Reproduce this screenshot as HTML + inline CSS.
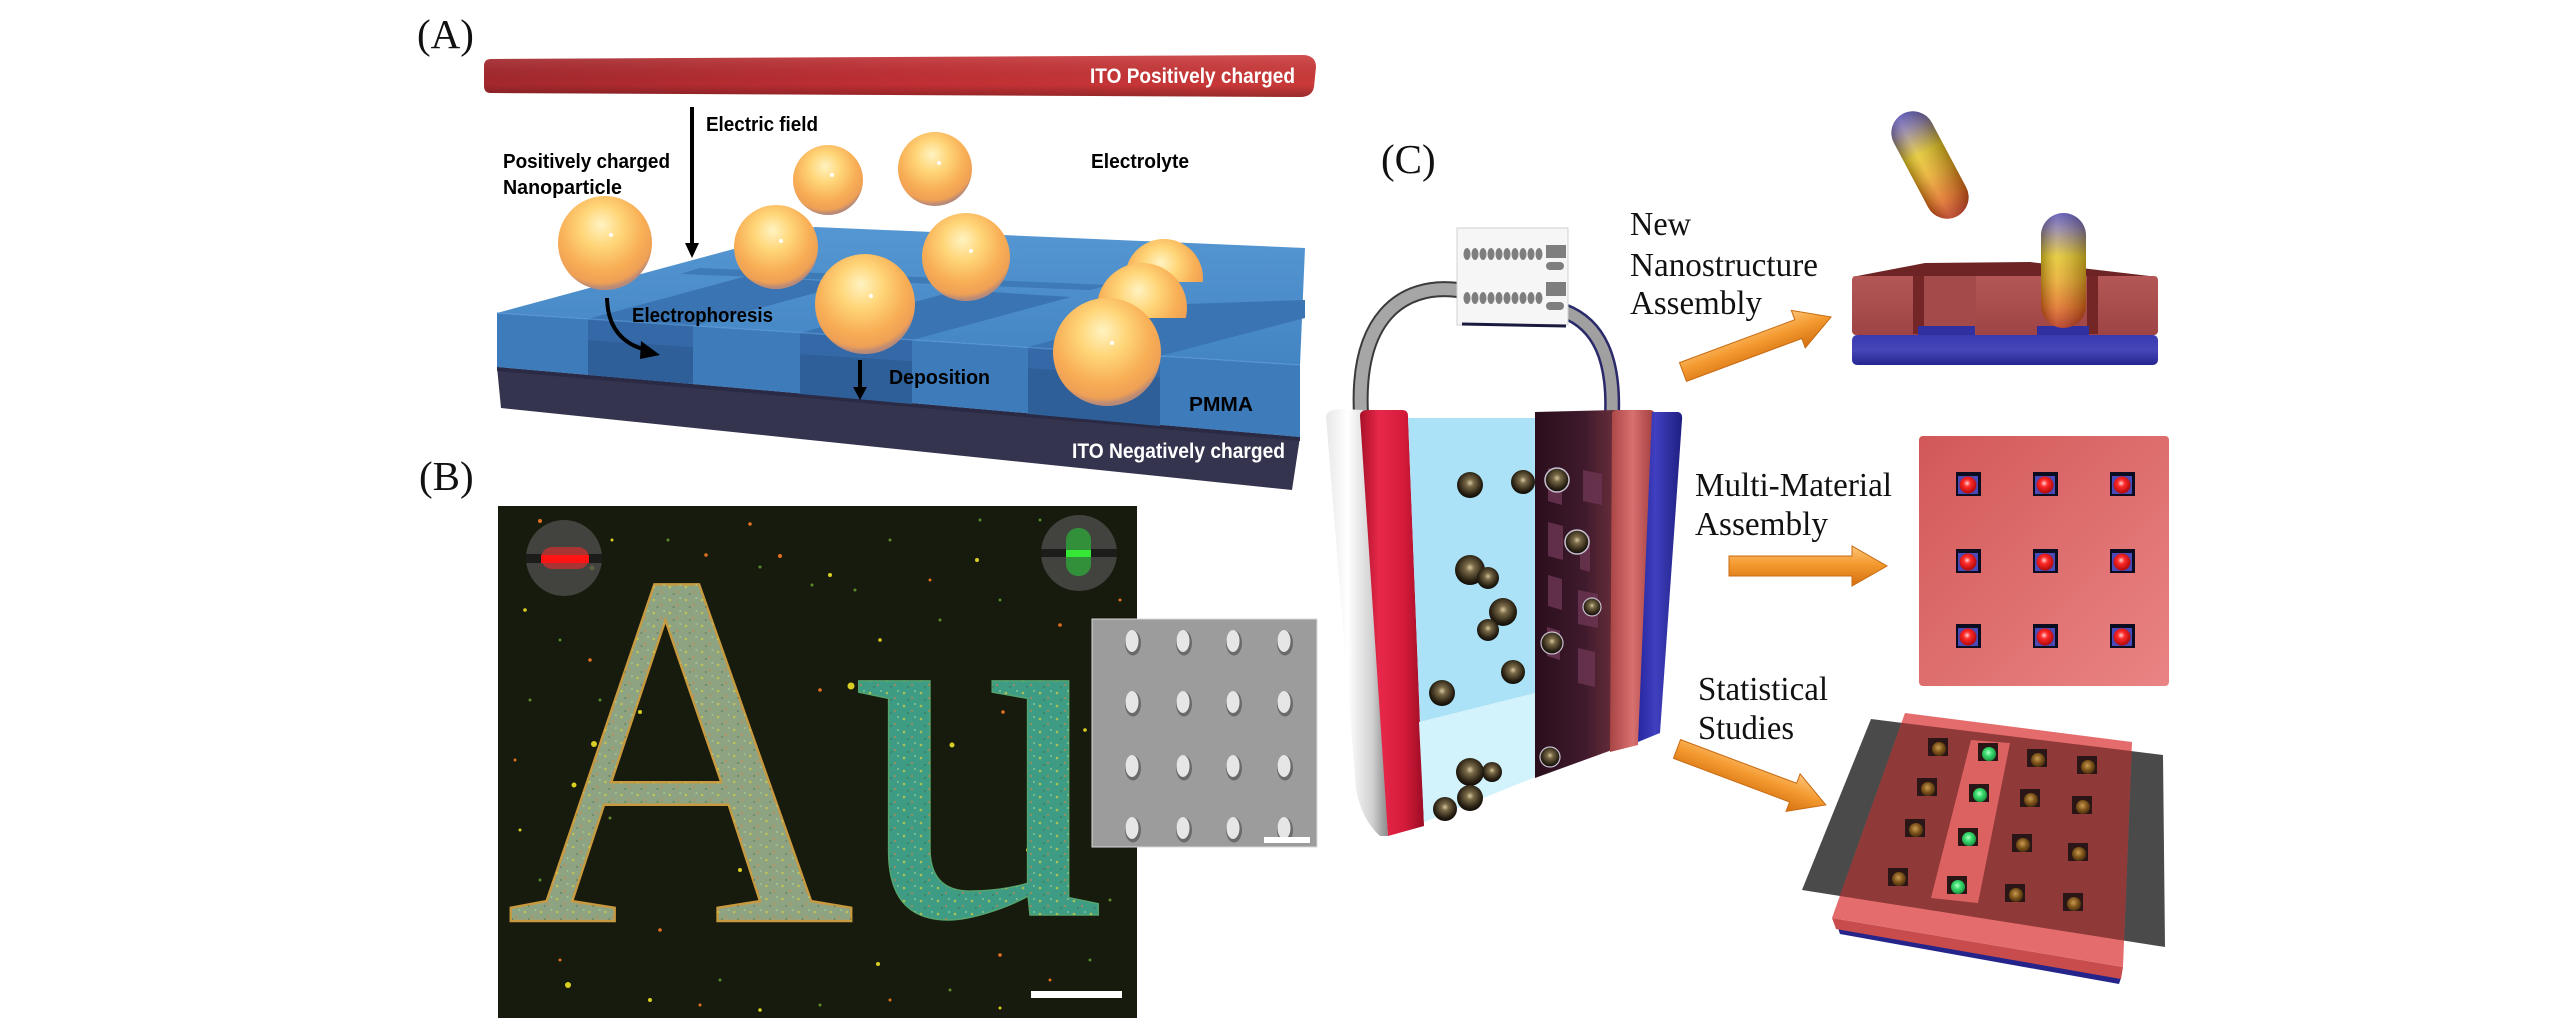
<!DOCTYPE html>
<html><head><meta charset="utf-8"><style>
html,body{margin:0;padding:0;background:#fff;}
svg{display:block;}
</style></head><body>
<svg xmlns="http://www.w3.org/2000/svg" width="2567" height="1024" viewBox="0 0 2567 1024">
<defs>
<linearGradient id="redbar" x1="0" y1="0" x2="1" y2="0">
<stop offset="0" stop-color="#a3282d"/><stop offset="0.5" stop-color="#c02f33"/><stop offset="1" stop-color="#cb3a3a"/>
</linearGradient>
<linearGradient id="redbarV" x1="0" y1="0" x2="0" y2="1">
<stop offset="0" stop-color="#ffffff" stop-opacity="0.12"/><stop offset="0.7" stop-color="#000" stop-opacity="0"/><stop offset="1" stop-color="#000" stop-opacity="0.25"/>
</linearGradient>
<linearGradient id="topface" x1="0" y1="0" x2="0" y2="1">
<stop offset="0" stop-color="#5597d2"/><stop offset="1" stop-color="#4384c3"/>
</linearGradient>
<radialGradient id="sph" cx="0.46" cy="0.36" r="0.62" fx="0.46" fy="0.3">
<stop offset="0" stop-color="#fff3c2"/><stop offset="0.35" stop-color="#ffd679"/><stop offset="0.72" stop-color="#f8ae55"/><stop offset="0.92" stop-color="#efa055"/><stop offset="1" stop-color="#b98a78"/>
</radialGradient>
<radialGradient id="dball" cx="0.5" cy="0.42" r="0.58">
<stop offset="0" stop-color="#d8c8a0"/><stop offset="0.25" stop-color="#7a6a48"/><stop offset="0.75" stop-color="#2a2214"/><stop offset="1" stop-color="#0e0a06"/>
</radialGradient>
<radialGradient id="bball" cx="0.45" cy="0.4" r="0.6">
<stop offset="0" stop-color="#c89a50"/><stop offset="0.6" stop-color="#7a5018"/><stop offset="1" stop-color="#4a3010"/>
</radialGradient>
<radialGradient id="gball" cx="0.45" cy="0.4" r="0.6">
<stop offset="0" stop-color="#b8ffc8"/><stop offset="0.4" stop-color="#3ee072"/><stop offset="1" stop-color="#1a9040"/>
</radialGradient>
<radialGradient id="rball" cx="0.45" cy="0.4" r="0.6">
<stop offset="0" stop-color="#ffd0d0"/><stop offset="0.35" stop-color="#ff2a2a"/><stop offset="1" stop-color="#b00808"/>
</radialGradient>
<linearGradient id="whitep" x1="0" y1="0" x2="1" y2="0">
<stop offset="0" stop-color="#e8e8e8"/><stop offset="0.35" stop-color="#ffffff"/><stop offset="0.75" stop-color="#d0d0d0"/><stop offset="1" stop-color="#8a8a8a"/>
</linearGradient>
<linearGradient id="redl" x1="0" y1="0" x2="1" y2="0">
<stop offset="0" stop-color="#a81028"/><stop offset="0.3" stop-color="#e8284a"/><stop offset="0.7" stop-color="#d41a3a"/><stop offset="1" stop-color="#9a0c24"/>
</linearGradient>
<linearGradient id="purp" x1="0" y1="0" x2="1" y2="0">
<stop offset="0" stop-color="#2a0e1c"/><stop offset="0.6" stop-color="#3e1a2c"/><stop offset="1" stop-color="#6a2e3a"/>
</linearGradient>
<linearGradient id="redr" x1="0" y1="0" x2="1" y2="0">
<stop offset="0" stop-color="#a84444"/><stop offset="0.5" stop-color="#d87070"/><stop offset="1" stop-color="#a03c3c"/>
</linearGradient>
<linearGradient id="bluer" x1="0" y1="0" x2="1" y2="0">
<stop offset="0" stop-color="#2626a0"/><stop offset="0.4" stop-color="#4040c0"/><stop offset="1" stop-color="#1e1e80"/>
</linearGradient>
<linearGradient id="pill" x1="0" y1="0" x2="0" y2="1">
<stop offset="0" stop-color="#4e48b0"/><stop offset="0.14" stop-color="#8a7aa0"/><stop offset="0.38" stop-color="#e4c420"/><stop offset="0.58" stop-color="#e8a820"/><stop offset="0.82" stop-color="#e06818"/><stop offset="1" stop-color="#b02810"/>
</linearGradient>
<linearGradient id="pillsh" x1="0" y1="0" x2="1" y2="0">
<stop offset="0" stop-color="#000" stop-opacity="0.28"/><stop offset="0.35" stop-color="#fff" stop-opacity="0.18"/><stop offset="1" stop-color="#000" stop-opacity="0.3"/>
</linearGradient>
<linearGradient id="orng" x1="0" y1="0" x2="0" y2="1">
<stop offset="0" stop-color="#fcc478"/><stop offset="0.45" stop-color="#f49a30"/><stop offset="1" stop-color="#d47010"/>
</linearGradient>
<linearGradient id="msq" x1="0" y1="0" x2="1" y2="1">
<stop offset="0" stop-color="#d25858"/><stop offset="1" stop-color="#ea8484"/>
</linearGradient>
<linearGradient id="blk" x1="0" y1="0" x2="0" y2="1">
<stop offset="0" stop-color="#b45656"/><stop offset="1" stop-color="#9e4444"/>
</linearGradient>
<linearGradient id="bbase" x1="0" y1="0" x2="0" y2="1">
<stop offset="0" stop-color="#3a3ab0"/><stop offset="0.5" stop-color="#4646b8"/><stop offset="1" stop-color="#262690"/>
</linearGradient>
<pattern id="spk" x="0" y="0" width="17" height="13" patternUnits="userSpaceOnUse">
<circle cx="3" cy="4" r="1.3" fill="#d8d040" opacity="0.7"/>
<circle cx="11" cy="9" r="1.1" fill="#e08040" opacity="0.6"/>
<circle cx="14" cy="2" r="1" fill="#b0e0a0" opacity="0.6"/>
<circle cx="7" cy="11" r="0.9" fill="#405a40" opacity="0.6"/>
</pattern>
<clipPath id="clip8"><rect x="1080" y="200" width="120" height="118"/></clipPath>
<clipPath id="clip9"><rect x="1100" y="200" width="120" height="82"/></clipPath>
<clipPath id="plateclip"><polygon points="1905,713 2132,742 2123,967 1832,918"/></clipPath>
</defs>

<rect x="0" y="0" width="2567" height="1024" fill="#ffffff"/>

<!-- ================= PANEL A ================= -->
<text x="417" y="48" font-family="Liberation Serif, serif" font-size="41" fill="#111">(A)</text>

<path d="M491,59 L1304,55 Q1316,56 1316,67 L1314,87 Q1312,97 1300,97 L491,93 Q484,93 484,86 L484,66 Q484,59 491,59 Z" fill="url(#redbar)"/>
<path d="M491,59 L1304,55 Q1316,56 1316,67 L1314,87 Q1312,97 1300,97 L491,93 Q484,93 484,86 L484,66 Q484,59 491,59 Z" fill="url(#redbarV)"/>
<text x="1090" y="83" font-family="Liberation Sans, sans-serif" font-weight="bold" font-size="21" fill="#ffffff" textLength="205" lengthAdjust="spacingAndGlyphs">ITO Positively charged</text>

<polygon points="497,367 1300,437 1292,490 501,408" fill="#35344f"/>
<polygon points="497,367 1300,437 1300,441 497,371" fill="#2a2a44"/>
<polygon points="497,313 1300,365 1300,437 497,367" fill="#3d7bbb"/>
<polygon points="497,313 815,227 1305,248 1300,365" fill="url(#topface)"/>
<polygon points="588,319 693,326 852,283 747,276" fill="#3a74b2"/>
<polygon points="800,333 912,340 1071,297 959,290" fill="#3a74b2"/>
<polygon points="1028,347 1160,356 1305,318 1305,300 1187,304" fill="#3a74b2"/>
<polygon points="700,268 1110,285 1090,290 680,274" fill="#3670ac" opacity="0.7"/>
<polygon points="588,340 693,347 693,384 588,375" fill="#2e5f98"/>
<polygon points="800,354 912,361 912,404 800,394" fill="#2e5f98"/>
<polygon points="1028,368 1160,377 1160,426 1028,414" fill="#2e5f98"/>
<polygon points="588,319 693,326 693,347 588,340" fill="#3568a6"/>
<polygon points="800,333 912,340 912,361 800,354" fill="#3568a6"/>
<polygon points="1028,347 1160,356 1160,377 1028,368" fill="#3568a6"/>
<line x1="497" y1="313" x2="1300" y2="365" stroke="#5a9ad6" stroke-width="1.5" opacity="0.6"/>

<line x1="692" y1="107" x2="692" y2="246" stroke="#000" stroke-width="4"/>
<polygon points="685,243 699,243 692,258" fill="#000"/>

<g>
<circle cx="828" cy="180" r="35" fill="url(#sph)"/>
<circle cx="935" cy="169" r="37" fill="url(#sph)"/>
<g clip-path="url(#clip9)"><circle cx="1164" cy="278" r="39" fill="url(#sph)"/></g>
<g clip-path="url(#clip8)"><circle cx="1142" cy="308" r="45" fill="url(#sph)"/></g>
<circle cx="605" cy="243" r="47" fill="url(#sph)"/>
<circle cx="776" cy="247" r="42" fill="url(#sph)"/>
<circle cx="966" cy="257" r="44" fill="url(#sph)"/>
<circle cx="865" cy="304" r="50" fill="url(#sph)"/>
<circle cx="1107" cy="352" r="54" fill="url(#sph)"/>
<circle cx="611" cy="235" r="2" fill="#fff"/>
<circle cx="781" cy="241" r="2" fill="#fff"/>
<circle cx="832" cy="175" r="2" fill="#fff"/>
<circle cx="939" cy="163" r="2" fill="#fff"/>
<circle cx="971" cy="251" r="2" fill="#fff"/>
<circle cx="871" cy="296" r="2" fill="#fff"/>
<circle cx="1112" cy="343" r="2" fill="#fff"/>
</g>

<path d="M607,298 Q608,340 646,350" fill="none" stroke="#000" stroke-width="4"/>
<polygon points="641,341 660,355 640,359" fill="#000"/>
<line x1="860" y1="360" x2="860" y2="390" stroke="#000" stroke-width="4"/>
<polygon points="853,387 867,387 860,400" fill="#000"/>

<g font-family="Liberation Sans, sans-serif" font-weight="bold" font-size="20" fill="#000">
<text x="706" y="131" textLength="112" lengthAdjust="spacingAndGlyphs">Electric field</text>
<text x="503" y="168" textLength="167" lengthAdjust="spacingAndGlyphs">Positively charged</text>
<text x="503" y="194" textLength="119" lengthAdjust="spacingAndGlyphs">Nanoparticle</text>
<text x="1091" y="168" textLength="98" lengthAdjust="spacingAndGlyphs">Electrolyte</text>
<text x="632" y="322" textLength="141" lengthAdjust="spacingAndGlyphs">Electrophoresis</text>
<text x="889" y="384" textLength="101" lengthAdjust="spacingAndGlyphs">Deposition</text>
<text x="1189" y="411" textLength="64" lengthAdjust="spacingAndGlyphs">PMMA</text>
</g>
<text x="1072" y="458" font-family="Liberation Sans, sans-serif" font-weight="bold" font-size="21" fill="#ffffff" textLength="213" lengthAdjust="spacingAndGlyphs">ITO Negatively charged</text>

<!-- ================= PANEL B ================= -->
<text x="419" y="490" font-family="Liberation Serif, serif" font-size="41" fill="#111">(B)</text>
<rect x="498" y="506" width="639" height="512" fill="#161b0e"/>

<g fill="#d8cf22">
<circle cx="592" cy="568" r="2.5"/><circle cx="830" cy="575" r="2"/><circle cx="715" cy="720" r="3"/><circle cx="594" cy="744" r="3"/><circle cx="574" cy="785" r="2.5"/><circle cx="795" cy="903" r="2.5"/><circle cx="568" cy="985" r="3"/><circle cx="1028" cy="850" r="2"/><circle cx="952" cy="745" r="2.5"/><circle cx="640" cy="712" r="2"/><circle cx="977" cy="560" r="2"/><circle cx="1056" cy="880" r="2"/><circle cx="560" cy="910" r="2.5"/><circle cx="878" cy="964" r="2"/><circle cx="740" cy="870" r="2"/><circle cx="1013" cy="690" r="2"/><circle cx="905" cy="845" r="2.5"/><circle cx="650" cy="1000" r="2"/><circle cx="851" cy="686" r="3.5"/>
<circle cx="525" cy="610" r="1.8"/><circle cx="612" cy="540" r="1.5"/><circle cx="880" cy="640" r="1.8"/><circle cx="1085" cy="730" r="1.8"/><circle cx="1120" cy="820" r="1.5"/><circle cx="520" cy="830" r="1.5"/><circle cx="1000" cy="1008" r="1.5"/><circle cx="760" cy="1010" r="1.8"/>
</g>
<g fill="#e07020">
<circle cx="540" cy="521" r="2"/><circle cx="750" cy="524" r="1.8"/><circle cx="706" cy="555" r="1.8"/><circle cx="780" cy="556" r="2"/><circle cx="650" cy="619" r="2"/><circle cx="590" cy="660" r="1.8"/><circle cx="1003" cy="712" r="1.8"/><circle cx="1060" cy="625" r="1.8"/><circle cx="930" cy="870" r="2"/><circle cx="660" cy="930" r="1.8"/><circle cx="1000" cy="955" r="1.8"/><circle cx="890" cy="1000" r="1.5"/><circle cx="1120" cy="600" r="1.5"/><circle cx="820" cy="690" r="1.8"/><circle cx="560" cy="960" r="1.5"/><circle cx="1050" cy="980" r="1.5"/>
<circle cx="930" cy="580" r="1.5"/><circle cx="1110" cy="700" r="1.5"/><circle cx="515" cy="760" r="1.5"/><circle cx="700" cy="1005" r="1.5"/>
</g>
<g fill="#5a8a2a">
<circle cx="668" cy="540" r="1.5"/><circle cx="760" cy="567" r="1.5"/><circle cx="812" cy="585" r="1.5"/><circle cx="855" cy="590" r="1.5"/><circle cx="560" cy="640" r="1.5"/><circle cx="600" cy="700" r="1.5"/><circle cx="610" cy="818" r="1.5"/><circle cx="530" cy="700" r="1.5"/><circle cx="940" cy="620" r="1.5"/><circle cx="1000" cy="600" r="1.5"/><circle cx="890" cy="540" r="1.5"/><circle cx="980" cy="520" r="1.5"/><circle cx="1040" cy="520" r="1.5"/><circle cx="720" cy="980" r="1.5"/><circle cx="820" cy="1005" r="1.5"/><circle cx="950" cy="990" r="1.5"/><circle cx="1090" cy="960" r="1.5"/><circle cx="540" cy="880" r="1.5"/><circle cx="700" cy="660" r="1.5"/><circle cx="1110" cy="900" r="1.5"/>
</g>

<text transform="translate(506,921) scale(0.947,1)" x="0" y="0" font-family="Liberation Serif, serif" font-size="510" fill="#8ea382" stroke="#c89a40" stroke-width="2.5">A</text>
<text transform="translate(506,921) scale(0.947,1)" x="0" y="0" font-family="Liberation Serif, serif" font-size="510" fill="url(#spk)">A</text>
<text x="852" y="915" font-family="Liberation Serif, serif" font-size="510" fill="#3f9c84" stroke="#54a46e" stroke-width="1.5">u</text>
<text x="852" y="915" font-family="Liberation Serif, serif" font-size="510" fill="url(#spk)">u</text>

<circle cx="564" cy="558" r="38" fill="#4a4a48" opacity="0.85"/>
<rect x="526" y="554" width="76" height="9" fill="#1c1c1a"/>
<rect x="541" y="547" width="48" height="22" rx="11" fill="#a83434"/>
<rect x="541" y="555" width="48" height="8" fill="#ff1414"/>
<circle cx="1079" cy="553" r="38" fill="#4a4a48" opacity="0.85"/>
<rect x="1041" y="549" width="76" height="8" fill="#1c1c1a"/>
<rect x="1066" y="528" width="25" height="48" rx="12" fill="#32903a"/>
<rect x="1066" y="550" width="25" height="7" fill="#36e836"/>

<rect x="1031" y="991" width="91" height="7" fill="#ffffff"/>

<rect x="1092" y="619" width="225" height="228" fill="#9c9c9c" stroke="#d8d8d8" stroke-width="1"/>
<g fill="#6a6a6a">
<ellipse cx="1133" cy="643" rx="8" ry="12.5"/><ellipse cx="1184" cy="643" rx="8" ry="12.5"/><ellipse cx="1234" cy="643" rx="8" ry="12.5"/><ellipse cx="1285" cy="643" rx="8" ry="12.5"/>
<ellipse cx="1133" cy="704" rx="8" ry="12.5"/><ellipse cx="1184" cy="704" rx="8" ry="12.5"/><ellipse cx="1234" cy="704" rx="8" ry="12.5"/><ellipse cx="1285" cy="704" rx="8" ry="12.5"/>
<ellipse cx="1133" cy="768" rx="8" ry="12.5"/><ellipse cx="1184" cy="768" rx="8" ry="12.5"/><ellipse cx="1234" cy="768" rx="8" ry="12.5"/><ellipse cx="1285" cy="768" rx="8" ry="12.5"/>
<ellipse cx="1133" cy="830" rx="8" ry="12.5"/><ellipse cx="1184" cy="830" rx="8" ry="12.5"/><ellipse cx="1234" cy="830" rx="8" ry="12.5"/><ellipse cx="1285" cy="830" rx="8" ry="12.5"/>
</g>
<g fill="#e6e6e6">
<ellipse cx="1132" cy="641" rx="6.5" ry="11"/><ellipse cx="1183" cy="641" rx="6.5" ry="11"/><ellipse cx="1233" cy="641" rx="6.5" ry="11"/><ellipse cx="1284" cy="641" rx="6.5" ry="11"/>
<ellipse cx="1132" cy="702" rx="6.5" ry="11"/><ellipse cx="1183" cy="702" rx="6.5" ry="11"/><ellipse cx="1233" cy="702" rx="6.5" ry="11"/><ellipse cx="1284" cy="702" rx="6.5" ry="11"/>
<ellipse cx="1132" cy="766" rx="6.5" ry="11"/><ellipse cx="1183" cy="766" rx="6.5" ry="11"/><ellipse cx="1233" cy="766" rx="6.5" ry="11"/><ellipse cx="1284" cy="766" rx="6.5" ry="11"/>
<ellipse cx="1132" cy="828" rx="6.5" ry="11"/><ellipse cx="1183" cy="828" rx="6.5" ry="11"/><ellipse cx="1233" cy="828" rx="6.5" ry="11"/><ellipse cx="1284" cy="828" rx="6.5" ry="11"/>
</g>
<rect x="1264" y="837" width="46" height="6" fill="#ffffff"/>

<!-- ================= PANEL C ================= -->
<text x="1381" y="173" font-family="Liberation Serif, serif" font-size="41" fill="#111">(C)</text>

<path d="M1361,414 C1356,320 1400,283 1458,290" fill="none" stroke="#3a3a3a" stroke-width="16"/>
<path d="M1361,414 C1356,320 1400,283 1458,290" fill="none" stroke="#a6a6a6" stroke-width="12"/>
<path d="M1564,311 C1600,325 1614,360 1612,414" fill="none" stroke="#2a2a6a" stroke-width="16"/>
<path d="M1564,311 C1600,325 1614,360 1612,414" fill="none" stroke="#a0a0a0" stroke-width="11"/>

<rect x="1457" y="228" width="111" height="97" fill="#f6f6f6" stroke="#d0d0d0" stroke-width="1"/>
<line x1="1462" y1="324" x2="1566" y2="326" stroke="#1a1a40" stroke-width="3"/>
<g fill="#7e7e7e">
<ellipse cx="1467" cy="254" rx="3.5" ry="6"/><ellipse cx="1475" cy="254" rx="3.5" ry="6"/><ellipse cx="1483" cy="254" rx="3.5" ry="6"/><ellipse cx="1491" cy="254" rx="3.5" ry="6"/><ellipse cx="1499" cy="254" rx="3.5" ry="6"/><ellipse cx="1507" cy="254" rx="3.5" ry="6"/><ellipse cx="1515" cy="254" rx="3.5" ry="6"/><ellipse cx="1523" cy="254" rx="3.5" ry="6"/><ellipse cx="1531" cy="254" rx="3.5" ry="6"/><ellipse cx="1539" cy="254" rx="3.5" ry="6"/>
<ellipse cx="1467" cy="298" rx="3.5" ry="6"/><ellipse cx="1475" cy="298" rx="3.5" ry="6"/><ellipse cx="1483" cy="298" rx="3.5" ry="6"/><ellipse cx="1491" cy="298" rx="3.5" ry="6"/><ellipse cx="1499" cy="298" rx="3.5" ry="6"/><ellipse cx="1507" cy="298" rx="3.5" ry="6"/><ellipse cx="1515" cy="298" rx="3.5" ry="6"/><ellipse cx="1523" cy="298" rx="3.5" ry="6"/><ellipse cx="1531" cy="298" rx="3.5" ry="6"/><ellipse cx="1539" cy="298" rx="3.5" ry="6"/>
<rect x="1546" y="245" width="20" height="13"/><rect x="1546" y="282" width="20" height="14"/>
<rect x="1546" y="262" width="18" height="8" rx="4"/><rect x="1546" y="302" width="18" height="8" rx="4"/>
</g>

<path d="M1326,416 Q1328,409 1342,409 L1363,410 L1388,836 L1380,836 Q1362,820 1356,790 Z" fill="url(#whitep)"/>
<path d="M1360,416 Q1360,410 1368,410 L1402,410 Q1408,410 1408,416 L1424,826 L1388,836 Z" fill="url(#redl)"/>
<polygon points="1408,418 1535,418 1535,777 1424,822" fill="#abe2f7"/>
<polygon points="1419,722 1535,693 1535,777 1424,822" fill="#d3f3fc"/>
<polygon points="1535,412 1616,410 1612,750 1535,778" fill="url(#purp)"/>
<g fill="#6a3450" opacity="0.85">
<polygon points="1583,470 1602,474 1602,505 1583,501"/>
<polygon points="1548,522 1563,526 1563,560 1548,556"/>
<polygon points="1580,533 1590,536 1590,572 1580,569"/>
<polygon points="1548,575 1562,579 1562,610 1548,606"/>
<polygon points="1578,590 1598,594 1598,628 1578,624"/>
<polygon points="1547,627 1560,631 1560,660 1547,656"/>
<polygon points="1578,648 1595,652 1595,687 1578,683"/>
<polygon points="1548,468 1562,472 1562,505 1548,501"/>
</g>
<path d="M1612,414 Q1612,410 1618,410 L1650,410 Q1655,410 1655,416 L1638,745 L1610,752 Z" fill="url(#redr)"/>
<path d="M1652,412 L1678,412 Q1683,413 1682,420 L1660,733 L1638,742 Z" fill="url(#bluer)"/>

<g>
<circle cx="1470" cy="485" r="13" fill="url(#dball)"/>
<circle cx="1523" cy="482" r="12" fill="url(#dball)"/>
<circle cx="1557" cy="480" r="12" fill="url(#dball)" stroke="#c8c0d0" stroke-width="1.5"/>
<circle cx="1577" cy="542" r="12" fill="url(#dball)" stroke="#c8c0d0" stroke-width="1.5"/>
<circle cx="1470" cy="570" r="15" fill="url(#dball)"/>
<circle cx="1488" cy="578" r="11" fill="url(#dball)"/>
<circle cx="1503" cy="612" r="14" fill="url(#dball)"/>
<circle cx="1488" cy="630" r="11" fill="url(#dball)"/>
<circle cx="1513" cy="672" r="12" fill="url(#dball)"/>
<circle cx="1442" cy="693" r="13" fill="url(#dball)"/>
<circle cx="1592" cy="607" r="9" fill="url(#dball)" stroke="#c8c0d0" stroke-width="1.2"/>
<circle cx="1552" cy="643" r="11" fill="url(#dball)" stroke="#c8c0d0" stroke-width="1.2"/>
<circle cx="1550" cy="757" r="10" fill="url(#dball)" stroke="#c8c0d0" stroke-width="1.2"/>
<circle cx="1492" cy="772" r="10" fill="url(#dball)"/>
<circle cx="1470" cy="772" r="14" fill="url(#dball)"/>
<circle cx="1470" cy="798" r="13" fill="url(#dball)"/>
<circle cx="1445" cy="809" r="12" fill="url(#dball)"/>
</g>

<g font-family="Liberation Serif, serif" font-size="34" fill="#111">
<text x="1630" y="235" textLength="61" lengthAdjust="spacingAndGlyphs">New</text>
<text x="1630" y="276" textLength="188" lengthAdjust="spacingAndGlyphs">Nanostructure</text>
<text x="1630" y="314" textLength="132" lengthAdjust="spacingAndGlyphs">Assembly</text>
<text x="1695" y="496" textLength="197" lengthAdjust="spacingAndGlyphs">Multi-Material</text>
<text x="1695" y="535" textLength="133" lengthAdjust="spacingAndGlyphs">Assembly</text>
<text x="1698" y="700" textLength="130" lengthAdjust="spacingAndGlyphs">Statistical</text>
<text x="1698" y="739" textLength="96" lengthAdjust="spacingAndGlyphs">Studies</text>
</g>

<g transform="translate(1683,372) rotate(-20.4)">
<polygon points="0,-10 123,-10 123,-20 158,0 123,20 123,10 0,10" fill="url(#orng)" stroke="#c86a10" stroke-width="1"/>
</g>
<g transform="translate(1729,566)">
<polygon points="0,-10 123,-10 123,-20 158,0 123,20 123,10 0,10" fill="url(#orng)" stroke="#c86a10" stroke-width="1"/>
</g>
<g transform="translate(1677,749) rotate(20.6)">
<polygon points="0,-10 124,-10 124,-20 159,0 124,20 124,10 0,10" fill="url(#orng)" stroke="#c86a10" stroke-width="1"/>
</g>

<g transform="translate(1930,165) rotate(-28)">
<rect x="-21.5" y="-58" width="43" height="116" rx="21.5" fill="url(#pill)"/>
<rect x="-21.5" y="-58" width="43" height="116" rx="21.5" fill="url(#pillsh)"/>
</g>
<polygon points="1852,277 1925,263 2030,262 2158,277" fill="#6e2424"/>
<rect x="1852" y="276" width="306" height="59" rx="4" fill="url(#blk)"/>
<rect x="1924" y="276" width="52" height="59" fill="#a44a4a"/>
<rect x="1913" y="276" width="11" height="58" fill="#742626"/>
<rect x="2087" y="276" width="11" height="58" fill="#742626"/>
<rect x="1918" y="326" width="57" height="9" fill="#3030a0"/>
<rect x="2037" y="326" width="52" height="9" fill="#3030a0"/>
<rect x="1852" y="335" width="306" height="30" rx="5" fill="url(#bbase)"/>
<rect x="2041" y="213" width="45" height="115" rx="22.5" fill="url(#pill)"/>
<rect x="2041" y="213" width="45" height="115" rx="22.5" fill="url(#pillsh)"/>

<rect x="1919" y="436" width="250" height="250" rx="4" fill="url(#msq)"/>
<g>
<g transform="translate(1956,472)"><rect width="25" height="24" fill="#0c0c20"/><rect x="2" y="4" width="20" height="18" fill="#4a4ab8"/><circle cx="12" cy="13" r="8.5" fill="url(#rball)"/></g>
<g transform="translate(2033,472)"><rect width="25" height="24" fill="#0c0c20"/><rect x="2" y="4" width="20" height="18" fill="#4a4ab8"/><circle cx="12" cy="13" r="8.5" fill="url(#rball)"/></g>
<g transform="translate(2110,472)"><rect width="25" height="24" fill="#0c0c20"/><rect x="2" y="4" width="20" height="18" fill="#4a4ab8"/><circle cx="12" cy="13" r="8.5" fill="url(#rball)"/></g>
<g transform="translate(1956,549)"><rect width="25" height="24" fill="#0c0c20"/><rect x="2" y="4" width="20" height="18" fill="#4a4ab8"/><circle cx="12" cy="13" r="8.5" fill="url(#rball)"/></g>
<g transform="translate(2033,549)"><rect width="25" height="24" fill="#0c0c20"/><rect x="2" y="4" width="20" height="18" fill="#4a4ab8"/><circle cx="12" cy="13" r="8.5" fill="url(#rball)"/></g>
<g transform="translate(2110,549)"><rect width="25" height="24" fill="#0c0c20"/><rect x="2" y="4" width="20" height="18" fill="#4a4ab8"/><circle cx="12" cy="13" r="8.5" fill="url(#rball)"/></g>
<g transform="translate(1956,624)"><rect width="25" height="24" fill="#0c0c20"/><rect x="2" y="4" width="20" height="18" fill="#4a4ab8"/><circle cx="12" cy="13" r="8.5" fill="url(#rball)"/></g>
<g transform="translate(2033,624)"><rect width="25" height="24" fill="#0c0c20"/><rect x="2" y="4" width="20" height="18" fill="#4a4ab8"/><circle cx="12" cy="13" r="8.5" fill="url(#rball)"/></g>
<g transform="translate(2110,624)"><rect width="25" height="24" fill="#0c0c20"/><rect x="2" y="4" width="20" height="18" fill="#4a4ab8"/><circle cx="12" cy="13" r="8.5" fill="url(#rball)"/></g>
</g>

<polygon points="1838,928 2121,978 2119,984 1840,934" fill="#24248a"/>
<polygon points="1832,918 2123,967 2121,979 1836,929" fill="#c84c4c"/>
<polygon points="1871,719 2163,755 2165,947 1802,890" fill="#4a4a4a"/>
<polygon points="1905,713 2132,742 2123,967 1832,918" fill="#e56c6c"/>
<g clip-path="url(#plateclip)">
<polygon points="1871,719 2163,755 2165,947 1802,890" fill="#5a1a1a" opacity="0.62"/>
</g>
<polygon points="1971,740 2010,743 1978,903 1931,898" fill="#dc6262"/>
<g>
<g transform="translate(1928,738)"><rect width="20" height="18" fill="#2a1616"/><circle cx="11" cy="11" r="7" fill="url(#bball)"/></g>
<g transform="translate(1917,778)"><rect width="20" height="18" fill="#2a1616"/><circle cx="11" cy="11" r="7" fill="url(#bball)"/></g>
<g transform="translate(1905,819)"><rect width="20" height="18" fill="#2a1616"/><circle cx="11" cy="11" r="7" fill="url(#bball)"/></g>
<g transform="translate(1888,868)"><rect width="20" height="18" fill="#2a1616"/><circle cx="11" cy="11" r="7" fill="url(#bball)"/></g>
<g transform="translate(1978,743)"><rect width="20" height="18" fill="#2a1616"/><circle cx="11" cy="11" r="7" fill="url(#gball)"/></g>
<g transform="translate(1969,784)"><rect width="20" height="18" fill="#2a1616"/><circle cx="11" cy="11" r="7" fill="url(#gball)"/></g>
<g transform="translate(1958,828)"><rect width="20" height="18" fill="#2a1616"/><circle cx="11" cy="11" r="7" fill="url(#gball)"/></g>
<g transform="translate(1947,876)"><rect width="20" height="18" fill="#2a1616"/><circle cx="11" cy="11" r="7" fill="url(#gball)"/></g>
<g transform="translate(2027,749)"><rect width="20" height="18" fill="#2a1616"/><circle cx="11" cy="11" r="7" fill="url(#bball)"/></g>
<g transform="translate(2020,789)"><rect width="20" height="18" fill="#2a1616"/><circle cx="11" cy="11" r="7" fill="url(#bball)"/></g>
<g transform="translate(2012,834)"><rect width="20" height="18" fill="#2a1616"/><circle cx="11" cy="11" r="7" fill="url(#bball)"/></g>
<g transform="translate(2005,884)"><rect width="20" height="18" fill="#2a1616"/><circle cx="11" cy="11" r="7" fill="url(#bball)"/></g>
<g transform="translate(2077,756)"><rect width="20" height="18" fill="#2a1616"/><circle cx="11" cy="11" r="7" fill="url(#bball)"/></g>
<g transform="translate(2072,796)"><rect width="20" height="18" fill="#2a1616"/><circle cx="11" cy="11" r="7" fill="url(#bball)"/></g>
<g transform="translate(2068,843)"><rect width="20" height="18" fill="#2a1616"/><circle cx="11" cy="11" r="7" fill="url(#bball)"/></g>
<g transform="translate(2063,893)"><rect width="20" height="18" fill="#2a1616"/><circle cx="11" cy="11" r="7" fill="url(#bball)"/></g>
</g>

</svg>
</body></html>
